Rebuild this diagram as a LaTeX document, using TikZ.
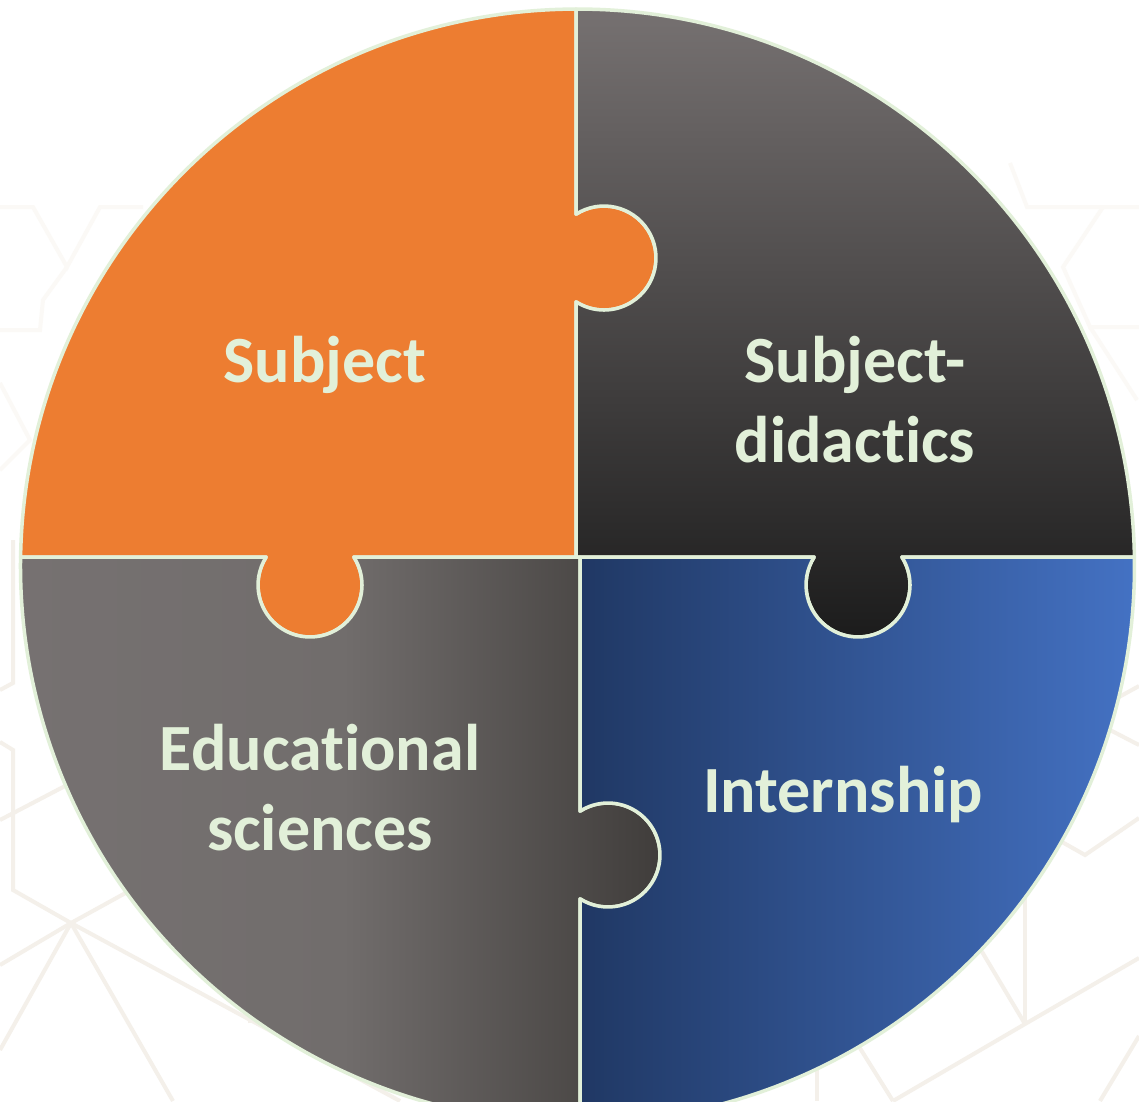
\documentclass[tikz,border=0pt]{standalone}
\usepackage{fontspec}
\setmainfont{Carlito}[Ligatures=NoCommon]
\definecolor{orangepiece}{HTML}{ED7D31}
\definecolor{outline}{HTML}{E2F0D9}
\definecolor{greytop}{HTML}{767171}
\definecolor{greymid}{HTML}{716D6C}
\definecolor{darkbottom}{HTML}{1B1B1B}
\definecolor{greyright}{HTML}{3F3C3A}
\definecolor{blueleft}{HTML}{203864}
\definecolor{blueright}{HTML}{4472C4}
\definecolor{hexline}{HTML}{F4F0EA}
\definecolor{hexfaint}{HTML}{FBF9F6}
\begin{document}
\begin{tikzpicture}
	[x=1pt,y=-1pt,%
	  piece/.style={draw=outline,line width=3.5pt,line join=round},
	  bgline/.style={draw=hexline,line width=4pt},
	  faintline/.style={draw=hexfaint,line width=4pt},
	  label/.style={text=outline,font=\bfseries\fontsize{66}{80}\selectfont,align=center,inner sep=0pt,anchor=base}]
	\useasboundingbox (0,0) rectangle (1139,1101);
	\clip (0,0) rectangle (1139,1101);
	\fill[white] (0,0) rectangle (1139,1101);
	% background pattern
	\draw[faintline] (0,207) -- (33,207) -- (67,267) -- (100,207) -- (143,207);
	\draw[faintline] (67,267) -- (43,300) -- (40,330) -- (0,330);
	\draw[faintline] (0,383) -- (30,440) -- (0,470);
	\draw[faintline] (1010,163) -- (1027,207) -- (1139,207);
	\draw[faintline] (1103,207) -- (1063,267) -- (1090,327) -- (1139,327);
	\draw[faintline] (1090,327) -- (1137,400);
	\draw[bgline] (13,540) -- (13,683) -- (0,690);
	\draw[bgline] (0,742) -- (13,750) -- (13,890) -- (71,923);
	\draw[bgline] (0,820) -- (67,785) -- (140,748);
	\draw[bgline] (71,923) -- (140,885);
	\draw[bgline] (71,923) -- (0,965);
	\draw[bgline] (71,923) -- (0,1050);
	\draw[bgline] (71,923) -- (173,1101);
	\draw[bgline] (71,923) -- (400,1101);
	\draw[bgline] (250,1023) -- (250,990);
	\draw[bgline] (817,1060) -- (817,1101);
	\draw[bgline] (840,1015) -- (853,1037) -- (893,1101);
	\draw[bgline] (893,1101) -- (1025,1024) -- (1139,958);
	\draw[bgline] (1025,1024) -- (1025,880);
	\draw[bgline] (1025,1024) -- (975,940);
	\draw[bgline] (1139,1036) -- (1100,1101);
	\draw[bgline] (1055,838) -- (1085,855) -- (1139,818);
	\draw[bgline] (1110,730) -- (1139,745);
	\draw[bgline] (1119,697) -- (1139,686);
	% puzzle pieces
	\path[piece,fill=orangepiece]
	  (576,9) -- (576,214.2) arc[start angle=237.42,end angle=482.58,radius=52]
	  -- (576,557) -- (353.8,557) arc[start angle=-32.58,end angle=212.58,radius=52]
	  -- (20.6,557) arc[start angle=180.93,end angle=269.85,radius=557] -- cycle;
	\path[piece,top color=greytop,bottom color=darkbottom]
	  (576,9) -- (576,214.2) arc[start angle=237.42,end angle=482.58,radius=52]
	  -- (576,557) -- (814.2,557) arc[start angle=212.58,end angle=-32.58,radius=52]
	  -- (1134.4,557) arc[start angle=-0.93,end angle=-90.15,radius=557] -- cycle;
	\path[piece,left color=greytop,right color=greyright,middle color=greymid]
	  (20.6,557) -- (266.2,557) arc[start angle=212.58,end angle=-32.58,radius=52]
	  -- (580,557) -- (580,811.2) arc[start angle=237.42,end angle=482.58,radius=52]
	  -- (580,1123) arc[start angle=89.74,end angle=180.93,radius=557] -- cycle;
	\path[piece,left color=blueleft,right color=blueright]
	  (580,557) -- (814.2,557) arc[start angle=212.58,end angle=-32.58,radius=52]
	  -- (1134.4,557) arc[start angle=-0.93,end angle=89.74,radius=557]
	  -- (580,1123) -- (580,898.8) arc[start angle=122.58,end angle=-122.58,radius=52] -- cycle;
	% labels
	\node[label] (subj) at (325,382) {Subject};
	\node[label] (didac) at (855,462) {Subject-\\didactics};
	\node[label] (edu) at (320,850) {Educational\\sciences};
	\node[label] (intern) at (843,812) {Internship};
\end{tikzpicture}
\end{document}
